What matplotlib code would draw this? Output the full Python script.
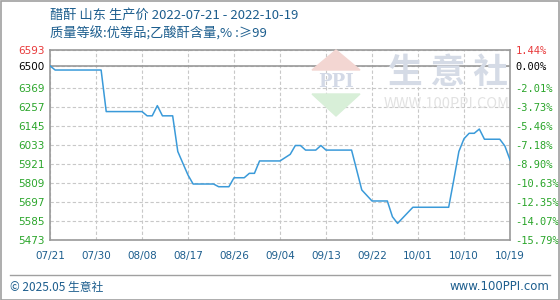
import matplotlib
matplotlib.use("Agg")
import matplotlib.pyplot as plt
from matplotlib.patches import Rectangle, Polygon
import pandas as pd

plt.rcParams['font.family'] = ['Noto Sans CJK SC', 'DejaVu Sans']

# price series (yuan/ton)
dates = ["2022-07-21", "2022-07-22", "2022-07-31", "2022-08-01", "2022-08-08",
         "2022-08-09", "2022-08-10", "2022-08-11", "2022-08-12", "2022-08-14",
         "2022-08-15", "2022-08-16", "2022-08-17", "2022-08-18", "2022-08-22",
         "2022-08-23", "2022-08-25", "2022-08-26", "2022-08-28", "2022-08-29",
         "2022-08-30", "2022-08-31", "2022-09-04", "2022-09-06", "2022-09-07",
         "2022-09-08", "2022-09-09", "2022-09-11", "2022-09-12", "2022-09-13",
         "2022-09-18", "2022-09-19", "2022-09-20", "2022-09-22", "2022-09-25",
         "2022-09-26", "2022-09-27", "2022-09-30", "2022-10-07", "2022-10-08",
         "2022-10-09", "2022-10-10", "2022-10-11", "2022-10-12", "2022-10-13",
         "2022-10-14", "2022-10-17", "2022-10-18", "2022-10-19"]
prices = [6500, 6475, 6475, 6230, 6230,
          6205, 6205, 6265, 6205, 6205,
          5995, 5925, 5856, 5803, 5803,
          5787, 5787, 5840, 5840, 5866,
          5866, 5939, 5939, 5978, 6030,
          6030, 6003, 6003, 6030, 6003,
          6003, 5886, 5768, 5703, 5703,
          5610, 5571, 5666, 5666, 5827,
          5995, 6070, 6102, 6102, 6127,
          6067, 6067, 6027, 5945]

base_price = 6500
y_ticks = [6593, 6500, 6369, 6257, 6145, 6033, 5921, 5809, 5697, 5585, 5473]
pct_labels = ["1.44%", "0.00%", "-2.01%", "-3.73%", "-5.46%", "-7.18%",
              "-8.90%", "-10.63%", "-12.35%", "-14.07%", "-15.79%"]
x_ticks = ["2022-07-21", "2022-07-30", "2022-08-08", "2022-08-17", "2022-08-26",
           "2022-09-04", "2022-09-13", "2022-09-22", "2022-10-01", "2022-10-10",
           "2022-10-19"]

title1 = "醋酐 山东 生产价 2022-07-21 - 2022-10-19"
title2 = "质量等级:优等品;乙酸酐含量,% :≥99"

blue_txt = "#1d5e8e"
green = "#2aa52a"
red = "#e8393a"
line_c = "#3a9ad9"
grid_c = "#c8c8c8"

W, H = 560, 300
fig = plt.figure(figsize=(W / 100, H / 100), dpi=100)

# outer frame
fig.patches.append(Rectangle((0.5 / W, 0.5 / H), 1 - 1.5 / W, 1 - 1.5 / H,
                             transform=fig.transFigure, fill=False,
                             edgecolor="#a0a0a0", lw=1.2))

ax = fig.add_axes([50 / W, 60 / H, 460 / W, 190 / H])
x = pd.to_datetime(dates)
xt = pd.to_datetime(x_ticks)

# watermark
wm_kw = dict(transform=fig.transFigure, zorder=0)
fig.text(448 / W, 1 - 72 / H, "生 意 社", fontsize=25, color="#d5dbe6",
         ha="center", va="center", fontweight="bold", **wm_kw)
fig.text(447 / W, 1 - 104 / H, "WWW.100PPI.COM", fontsize=10.5, color="#e2e2e2",
         ha="center", va="center", **wm_kw)
fig.patches.append(Polygon([(312 / W, 1 - 70 / H), (360 / W, 1 - 70 / H), (336 / W, 1 - 50 / H)],
                           closed=True, transform=fig.transFigure, color="#f3d6d2", zorder=0))
fig.patches.append(Polygon([(312 / W, 1 - 94 / H), (360 / W, 1 - 94 / H), (336 / W, 1 - 116 / H)],
                           closed=True, transform=fig.transFigure, color="#d8efd8", zorder=0))
fig.text(336 / W, 1 - 82 / H, "PPI", fontsize=13, color="#d3d9e6", ha="center",
         va="center", fontweight="bold", family="DejaVu Serif", **wm_kw)

ax.patch.set_alpha(0)
ax.plot(x, prices, color=line_c, lw=1.1, zorder=3)
ax.axhline(base_price, color="#999999", lw=1.2, zorder=2)

ax.set_ylim(y_ticks[-1], y_ticks[0])
ax.set_xlim(xt[0], xt[-1])
ax.set_yticks(y_ticks)
ax.set_xticks(xt)
ax.set_yticklabels([str(v) for v in y_ticks], fontsize=7.5, family="DejaVu Sans")
ax.set_xticklabels([d.strftime("%m/%d") for d in xt], fontsize=7.5,
                   color=blue_txt, family="DejaVu Sans")
ax.grid(True, color=grid_c, ls=(0, (3, 2)), lw=0.8)
ax.tick_params(length=0, pad=4)
ax.tick_params(axis="x", pad=8)
for lab, v in zip(ax.get_yticklabels(), y_ticks):
    lab.set_color(red if v == y_ticks[0] else ("black" if v == base_price else green))
for s in ax.spines.values():
    s.set_color("#999999")
    s.set_linewidth(1.2)

ax2 = ax.twinx()
ax2.set_ylim(ax.get_ylim())
ax2.set_yticks(y_ticks)
ax2.set_yticklabels(pct_labels, fontsize=7.5, family="DejaVu Sans Mono")
ax2.tick_params(length=0, pad=4)
for lab, v in zip(ax2.get_yticklabels(), y_ticks):
    lab.set_color(red if v == y_ticks[0] else ("black" if v == base_price else green))
for s in ax2.spines.values():
    s.set_visible(False)

fig.text(50 / W, 1 - 15 / H, title1, fontsize=9.5, color=blue_txt, va="center")
fig.text(50 / W, 1 - 34 / H, title2, fontsize=9.5, color=blue_txt, va="center")

fig.add_artist(plt.Line2D([10 / W, 550 / W], [1 - 275 / H, 1 - 275 / H],
                          transform=fig.transFigure, color="#a0a0a0", lw=1))
fig.text(10 / W, 1 - 287 / H, "© 2025.05 生意社", fontsize=8.5, color=blue_txt, va="center")
fig.text(549 / W, 1 - 287 / H, "www.100PPI.com", fontsize=8.5, color=blue_txt,
         va="center", ha="right", family="DejaVu Sans")

fig.savefig("out.png", dpi=100)
